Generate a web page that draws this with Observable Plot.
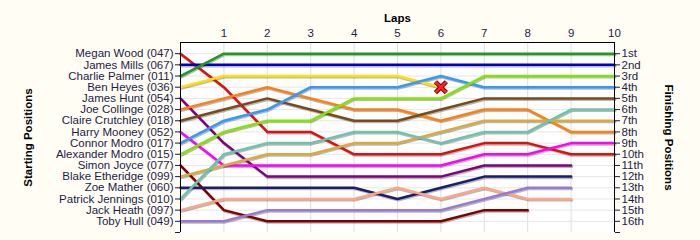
<!DOCTYPE html>
<html>
<head>
<meta charset="utf-8">
<script src="https://cdn.jsdelivr.net/npm/d3@7"></script>
<script src="https://cdn.jsdelivr.net/npm/@observablehq/plot@0.6"></script>
<style>
  html, body { margin: 0; padding: 0; background: #fffdf4; }
  #chart svg { display: block; background: #fffdf4; }
</style>
</head>
<body>
<div id="chart"></div>
<script>
// Drivers in starting-grid order
const drivers = [
  "Megan Wood (047)", "James Mills (067)", "Charlie Palmer (011)", "Ben Heyes (036)",
  "James Hunt (054)", "Joe Collinge (028)", "Claire Crutchley (018)", "Harry Mooney (052)",
  "Connor Modro (017)", "Alexander Modro (015)", "Simon Joyce (077)", "Blake Etheridge (099)",
  "Zoe Mather (060)", "Patrick Jennings (010)", "Jack Heath (097)", "Toby Hull (049)"
];
const colors = [
  "#e01010", "#0000cc", "#1e9a1e", "#ffe000",
  "#800080", "#ff7f0e", "#7b4a19", "#ff00ff",
  "#3399ff", "#80e600", "#800000", "#dcaa3a",
  "#1c1c6c", "#6cc4aa", "#ffa484", "#9a78d8"
];
// Position of each driver after lap 0,1,2,...
const megan     = [1, 4, 8, 8, 10, 10, 10, 9, 9, 10, 10];
const jamesM    = [2, 2, 2, 2, 2, 2, 2, 2, 2, 2, 2];
const charlie   = [3, 1, 1, 1, 1, 1, 1, 1, 1, 1, 1];
const ben       = [4, 3, 3, 3, 3, 3, 4];
const jamesH    = [5, 9, 12, 12, 12, 12, 12, 11, 11, 11];
const joe       = [6, 5, 4, 5, 6, 6, 7, 6, 6, 8, 8];
const claire    = [7, 6, 5, 6, 7, 7, 6, 5, 5, 5, 5];
const harry     = [8, 11, 11, 11, 11, 11, 11, 10, 10, 9, 9];
const connor    = [9, 7, 6, 4, 4, 4, 3, 4, 4, 4, 4];
const alexander = [10, 8, 7, 7, 5, 5, 5, 3, 3, 3, 3];
const simon     = [11, 15, 16, 16, 16, 16, 16, 15, 15];
const blake     = [12, 11, 10, 10, 9, 9, 8, 7, 7, 7, 7];
const zoe       = [13, 13, 13, 13, 13, 14, 13, 12, 12, 12];
const patrick   = [14, 10, 9, 9, 8, 8, 9, 8, 8, 6, 6];
const jack      = [15, 14, 14, 14, 14, 13, 14, 13, 14, 14];
const toby      = [16, 16, 15, 15, 15, 15, 15, 14, 13, 13];
const positions = [megan, jamesM, charlie, ben, jamesH, joe, claire, harry,
                   connor, alexander, simon, blake, zoe, patrick, jack, toby];
const laps = [1, 2, 3, 4, 5, 6, 7, 8, 9, 10];
const finishLabels = ["1st","2nd","3rd","4th","5th","6th","7th","8th",
                      "9th","10th","11th","12th","13th","14th","15th","16th"];
const retired = [{driver: "Ben Heyes (036)", lap: 6, pos: 4}];

const rows = [];
drivers.forEach((d, i) => positions[i].forEach((p, lap) => rows.push({driver: d, lap, pos: p})));
const ranks = d3.range(1, 17);
const font = "Liberation Sans, Arial, sans-serif";

const chart = Plot.plot({
  width: 700,
  height: 240,
  marginLeft: 180,
  marginRight: 86,
  marginTop: 42,
  marginBottom: 8,
  style: {fontFamily: font, fontSize: "11.5px", color: "#1c1c48", background: "#fffdf4"},
  x: {domain: [0, 10]},
  y: {domain: [17, 0]},
  color: {domain: drivers, range: colors},
  marks: [
    Plot.frame({fill: "white", stroke: "none"}),
    Plot.gridX(laps, {stroke: "#dedede", strokeOpacity: 1}),
    Plot.gridY(ranks, {stroke: "#e6e6e6", strokeOpacity: 1}),
    Plot.line(rows, {x: "lap", y: "pos", z: "driver", stroke: "#000", strokeOpacity: 0.28,
                     strokeWidth: 2.5, dx: 0.8, dy: 1.3}),
    Plot.line(rows, {x: "lap", y: "pos", z: "driver", stroke: "driver", strokeWidth: 2.5}),
    Plot.dot(retired, {x: "lap", y: "pos", symbol: "times", r: 5, stroke: "#5a0000", strokeWidth: 4.5}),
    Plot.dot(retired, {x: "lap", y: "pos", symbol: "times", r: 5, stroke: "#ff2020", strokeWidth: 2.8}),
    Plot.ruleY([0], {stroke: "#000"}),
    Plot.ruleX([0, 10], {stroke: "#000"}),
    Plot.axisX(laps, {anchor: "top", tickSize: 0, tickPadding: 6, label: null, fontSize: 11.5}),
    Plot.axisY(ranks, {anchor: "left", tickSize: 5, tickPadding: 2, label: null,
                       tickFormat: r => drivers[r - 1], fontSize: 11.5}),
    Plot.axisY([17], {anchor: "left", tickSize: 5, tickFormat: () => "", label: null}),
    Plot.axisY(ranks, {anchor: "right", tickSize: 5, tickPadding: 2, label: null,
                       tickFormat: r => finishLabels[r - 1], fontSize: 11.5}),
    Plot.axisY([17], {anchor: "right", tickSize: 5, tickFormat: () => "", label: null}),
    Plot.text(["Laps"], {frameAnchor: "top", dy: -29, fontWeight: "bold", fontSize: 11.5, fill: "#000"}),
    Plot.text(["Starting Positions"], {frameAnchor: "left", textAnchor: "middle", dx: -152, rotate: -90,
                                        fontWeight: "bold", fontSize: 11.5, fill: "#000"}),
    Plot.text(["Finishing Positions"], {frameAnchor: "right", textAnchor: "middle", dx: 54, rotate: 90,
                                         fontWeight: "bold", fontSize: 11.5, fill: "#000"})
  ]
});
document.getElementById("chart").appendChild(chart);
</script>
</body>
</html>
